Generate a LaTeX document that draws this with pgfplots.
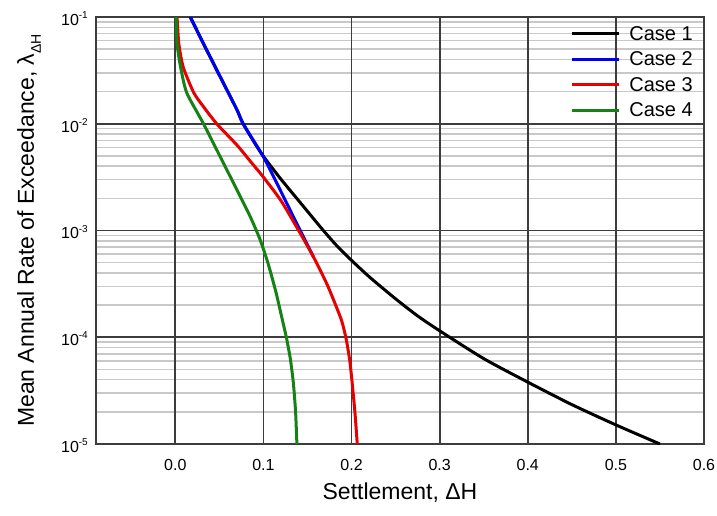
\documentclass[border=0pt]{standalone}
\usepackage{fontspec}
\setmainfont{Liberation Sans}
\usepackage{pgfplots}
\pgfplotsset{compat=1.18}
\definecolor{cred}{RGB}{230,0,0}
\definecolor{cgreen}{RGB}{20,130,20}
\definecolor{cblue}{RGB}{0,0,245}
\definecolor{majgrid}{RGB}{60,60,60}
\definecolor{mingrid}{RGB}{200,200,200}
\newcommand{\pw}[1]{10\raisebox{0.42em}{\fontsize{10}{10}\selectfont #1}}
\begin{document}
\begin{tikzpicture}
\path[use as bounding box] (-96pt,-71pt) rectangle (621pt,444pt);
\begin{axis}[
  scale only axis, width=608pt, height=427pt,
  xmin=-0.09, xmax=0.6,
  ymode=log, ymin=1e-5, ymax=1e-1,
  xtick={0,0.1,0.2,0.3,0.4,0.5,0.6},
  xticklabels={0.0,0.1,0.2,0.3,0.4,0.5,0.6},
  extra x ticks={0,0.1,0.2,0.3,0.4,0.5},
  extra x tick labels={},
  extra x tick style={grid=major, major tick length=0pt},
  ytick={1e-5,1e-4,1e-3,1e-2,1e-1},
  yticklabels={\pw{-5},\pw{-4},\pw{-3},\pw{-2},\pw{-1}},
  minor ytick={2e-5,3e-5,4e-5,5e-5,6e-5,7e-5,8e-5,9e-5,
               2e-4,3e-4,4e-4,5e-4,6e-4,7e-4,8e-4,9e-4,
               2e-3,3e-3,4e-3,5e-3,6e-3,7e-3,8e-3,9e-3,
               2e-2,3e-2,4e-2,5e-2,6e-2,7e-2,8e-2,9e-2},
  major tick length=0pt, minor tick length=0pt,
  ymajorgrids, yminorgrids,
  major grid style={majgrid, line width=1.8pt},
  minor grid style={mingrid, line width=1.5pt},
  axis line style={majgrid, line width=1.8pt},
  tick label style={font=\fontsize{16}{19}\selectfont},
  xticklabel style={anchor=north, inner sep=0pt, yshift=-15pt},
  yticklabel style={anchor=east, inner sep=0pt, xshift=-8pt, yshift=-1.5pt},
  xlabel={Settlement, ΔH},
  ylabel={Mean Annual Rate of Exceedance, λ\raisebox{-0.3em}{\fontsize{14}{14}\selectfont ΔH}},
  label style={font=\fontsize{23}{27}\selectfont},
  xlabel style={at={(axis description cs:0.5,-0.131)}, anchor=base},
  ylabel style={at={(axis description cs:-0.102,0.5)}, anchor=base},
  legend style={draw=none, fill=none, at={(axis description cs:1,1)}, anchor=north east,
    xshift=-9pt, yshift=-7pt, inner sep=0pt, row sep=6pt,
    font=\fontsize{20}{24}\selectfont, nodes={inner sep=2pt},
    /tikz/every odd column/.append style={column sep=7pt}},
  legend cell align=left,
  legend image code/.code={\draw[#1, line width=3pt] (0pt,0pt) -- (47pt,0pt);},
  every axis plot/.append style={line width=3pt, smooth, tension=0.4},
]
\addplot[black] coordinates {
(0.017,1e-1) (0.032,0.0562) (0.051,0.0275) (0.070,0.0135) (0.077,1e-2)
(0.097,5.37e-3) (0.119,3.09e-3) (0.14,1.905e-3) (0.166,1.047e-3) (0.183,7.24e-4)
(0.2,5.25e-4) (0.221,3.63e-4) (0.25,2.29e-4) (0.275,1.585e-4) (0.3,1.15e-4)
(0.35,6.31e-5) (0.4,3.8e-5) (0.45,2.34e-5) (0.5,1.51e-5) (0.55,1e-5)};
\addlegendentry{Case 1}
\addplot[cblue] coordinates {
(0.017,1e-1) (0.032,0.0562) (0.051,0.0275) (0.070,0.0135) (0.077,1e-2)
(0.1,4.9e-3) (0.119,2.4e-3) (0.14,1.07e-3) (0.157,5.6e-4)};
\addlegendentry{Case 2}
\addplot[cred] coordinates {
(0.002,1e-1) (0.004,0.0562) (0.009,0.0339) (0.021,0.0195) (0.032,0.01445)
(0.047,1e-2) (0.07,6.31e-3) (0.085,4.47e-3) (0.1,3.16e-3) (0.12,1.9e-3)
(0.14,1e-3) (0.157,5.62e-4) (0.172,3.16e-4) (0.182,2e-4) (0.189,1.41e-4)
(0.194,9.55e-5) (0.198,6.03e-5) (0.201,3.55e-5) (0.204,1.91e-5) (0.2065,1e-5)};
\addlegendentry{Case 3}
\addplot[cgreen] coordinates {
(0.001,1e-1) (0.002,0.0562) (0.006,0.0339) (0.013,0.0195) (0.032,1e-2)
(0.051,4.9e-3) (0.070,2.4e-3) (0.085,1.35e-3) (0.096,8.3e-4) (0.105,5e-4)
(0.114,2.69e-4) (0.1205,1.58e-4) (0.126,1e-4) (0.1305,6.31e-5) (0.134,3.72e-5)
(0.1365,2e-5) (0.138,1e-5)};
\addlegendentry{Case 4}
\end{axis}
\end{tikzpicture}
\end{document}
